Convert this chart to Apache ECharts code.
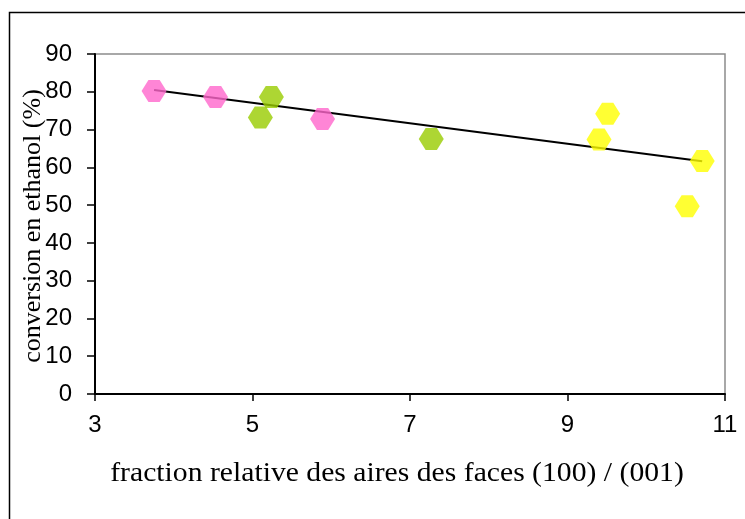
<!DOCTYPE html>
<html>
<head>
<meta charset="utf-8">
<script src="https://cdn.jsdelivr.net/npm/echarts@6/dist/echarts.min.js"></script>
<style>
html,body{margin:0;padding:0;background:#fff;}
#chart{width:745px;height:519px;}
</style>
</head>
<body>
<div id="chart"></div>
<script>
// Data
const pinkPoints = [[3.75, 80.2], [4.53, 78.6], [5.89, 72.8]];
const greenPoints = [[5.24, 78.6], [5.10, 73.2], [7.27, 67.5]];
const yellowPoints = [[9.51, 74.2], [9.40, 67.4], [10.71, 61.7], [10.52, 49.7]];
const trendLine = [[3.75, 80.5], [10.71, 61.6]];
const xTicks = [3, 5, 7, 9, 11];
const yTicks = [0, 10, 20, 30, 40, 50, 60, 70, 80, 90];
const xTitle = 'fraction relative des aires des faces (100) / (001)';
const yTitle = 'conversion en ethanol (%)';

const hex = 'path://M0,10 L5.5,0 L14.5,0 L20,10 L14.5,20 L5.5,20 Z';
const chart = echarts.init(document.getElementById('chart'), null, {renderer: 'canvas'});
const tickFont = {fontFamily: 'Liberation Sans, Arial, sans-serif', fontSize: 24, color: '#000'};
const serif = 'Liberation Serif, Times New Roman, serif';

chart.setOption({
  animation: false,
  backgroundColor: '#fff',
  graphic: [{
    type: 'rect', z: -10,
    shape: {x: 9.5, y: 12.5, width: 800, height: 600},
    style: {fill: 'none', stroke: '#000', lineWidth: 1.5}
  }, {
    type: 'text', x: 397, y: 474, scaleX: 1.06,
    style: {text: xTitle, font: '28px ' + serif, fill: '#000', align: 'center', verticalAlign: 'middle'}
  }, {
    type: 'text', x: 33, y: 226, rotation: Math.PI / 2,
    style: {text: yTitle, font: '26px ' + serif, fill: '#000', align: 'center', verticalAlign: 'middle'}
  }],
  grid: {left: 95, top: 54, right: 20, bottom: 125, show: true, borderColor: '#8c8c8c', borderWidth: 1.5, backgroundColor: 'transparent'},
  xAxis: {
    type: 'value', min: xTicks[0], max: xTicks[xTicks.length - 1], interval: 2,
    axisLine: {show: true, onZero: false, lineStyle: {color: '#000', width: 2}},
    axisTick: {show: true, inside: false, length: 7, lineStyle: {color: '#000', width: 1.5}},
    axisLabel: Object.assign({margin: 19}, tickFont),
    splitLine: {show: false}
  },
  yAxis: {
    type: 'value', min: yTicks[0], max: yTicks[yTicks.length - 1], interval: 10,
    axisLine: {show: true, onZero: false, lineStyle: {color: '#000', width: 2}},
    axisTick: {show: true, inside: false, length: 8, lineStyle: {color: '#000', width: 1.5}},
    axisLabel: Object.assign({margin: 23}, tickFont),
    splitLine: {show: false}
  },
  series: [
    {type: 'line', data: trendLine, symbol: 'none', lineStyle: {color: '#000', width: 2}, z: 1},
    {type: 'scatter', data: pinkPoints, symbol: hex, symbolSize: [25, 22], itemStyle: {color: '#FF66CC'}, z: 3},
    {type: 'scatter', data: greenPoints, symbol: hex, symbolSize: [25, 22], itemStyle: {color: '#99CC00'}, z: 3},
    {type: 'scatter', data: yellowPoints, symbol: hex, symbolSize: [25, 22], itemStyle: {color: '#FFFF00'}, z: 3}
  ]
});
</script>
</body>
</html>
